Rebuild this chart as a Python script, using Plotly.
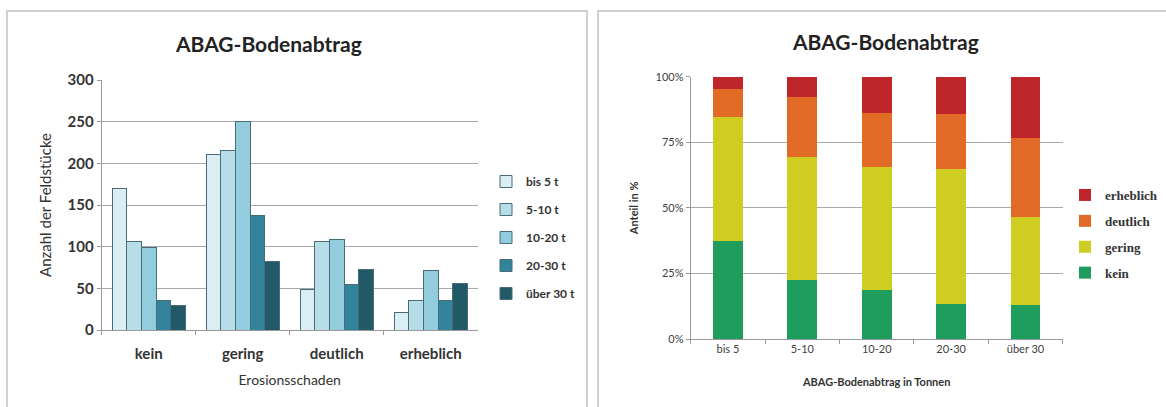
import plotly.graph_objects as go

W, H = 1166, 407

# ---------------- data ----------------
schaden = ["kein", "gering", "deutlich", "erheblich"]
abtrag_klassen = ["bis 5 t", "5-10 t", "10-20 t", "20-30 t", "über 30 t"]
anzahl = {
    "bis 5 t":   [170, 211, 49, 21],
    "5-10 t":    [106, 216, 106, 35],
    "10-20 t":   [99, 250, 109, 71],
    "20-30 t":   [35, 137, 55, 36],
    "über 30 t": [30, 82, 73, 56],
}

abtrag_tonnen = ["bis 5", "5-10", "10-20", "20-30", "über 30"]
schaden_stufen = ["kein", "gering", "deutlich", "erheblich"]
anteil = {
    "kein":      [37.4, 22.6, 18.8, 13.5, 12.8],
    "gering":    [47.1, 46.9, 46.7, 51.3, 33.9],
    "deutlich":  [10.7, 22.6, 20.8, 21.0, 29.8],
    "erheblich": [4.8, 7.9, 13.7, 14.2, 23.5],
}

left_colors = ["#dbeef4", "#b7dee8", "#93cddd", "#31849b", "#215967"]
right_colors = {"kein": "#1f9d5c", "gering": "#cfcc22",
                "deutlich": "#e06a26", "erheblich": "#be262c"}

def px(x):
    return x / W

def py(y):
    return 1 - y / H

FONT = "Lato, 'Open Sans', sans-serif"
SERIF = "'Liberation Serif', serif"
TXT = "#404040"

fig = go.Figure()

for i, (name, col) in enumerate(zip(abtrag_klassen, left_colors)):
    fig.add_trace(go.Bar(
        x=schaden, y=anzahl[name], name=name,
        marker=dict(color=col, line=dict(color="#4a6b7a", width=1)),
        xaxis="x", yaxis="y", legend="legend", legendgroup=name,
        offsetgroup=str(i),
    ))

for i, name in enumerate(schaden_stufen):
    fig.add_trace(go.Bar(
        x=abtrag_tonnen, y=anteil[name], name=name,
        marker=dict(color=right_colors[name], line=dict(width=0)),
        xaxis="x2", yaxis="y2", legend="legend2", legendgroup="r" + name,
        legendrank=10 - i, width=0.4,
    ))

shapes = [
    dict(type="rect", xref="paper", yref="paper", layer="below",
         x0=px(7), x1=px(587), y0=py(410), y1=py(11),
         line=dict(color="#d0d0d0", width=2), fillcolor="white"),
    dict(type="rect", xref="paper", yref="paper", layer="below",
         x0=px(598), x1=px(1170), y0=py(410), y1=py(11),
         line=dict(color="#d0d0d0", width=2), fillcolor="white"),
]

annotations = [
    dict(text="<b>ABAG-Bodenabtrag</b>", x=px(268), y=py(43), xref="paper", yref="paper",
         xanchor="center", yanchor="middle",
         showarrow=False, font=dict(family=FONT, size=21, color="#222")),
    dict(text="<b>ABAG-Bodenabtrag</b>", x=px(885), y=py(42), xref="paper", yref="paper",
         xanchor="center", yanchor="middle",
         showarrow=False, font=dict(family=FONT, size=21, color="#222")),
]

fig.update_layout(
    width=W, height=H,
    margin=dict(l=0, r=0, t=0, b=0, autoexpand=False),
    paper_bgcolor="white", plot_bgcolor="rgba(0,0,0,0)",
    barmode="stack",
    bargap=0.22, bargroupgap=0,
    shapes=shapes, annotations=annotations,
    xaxis=dict(domain=[px(101.7), px(477.7)], anchor="y", automargin=False,
               showline=True, linecolor="#9a9a9a", linewidth=1,
               ticks="outside", tickson="boundaries", ticklen=4, tickcolor="#9a9a9a",
               ticklabelstandoff=10,
               tickfont=dict(family=FONT, size=15, color="#333", weight="bold"),
               title=dict(text="Erosionsschaden", standoff=14,
                          font=dict(family=FONT, size=14, color="#333"))),
    yaxis=dict(domain=[py(330), py(80)], anchor="x", range=[0, 300], dtick=50,
               automargin=False,
               showline=True, linecolor="#9a9a9a", linewidth=1,
               ticks="outside", ticklen=4, tickcolor="#9a9a9a",
               showgrid=True, gridcolor="#a8a8a8", gridwidth=1, zeroline=False,
               tickfont=dict(family=FONT, size=15, color="#333", weight="bold"),
               title=dict(text="Anzahl der Feldstücke", standoff=12,
                          font=dict(family=FONT, size=15, color="#333"))),
    xaxis2=dict(domain=[px(690.7), px(1062.7)], anchor="y2", automargin=False,
                showline=True, linecolor="#9a9a9a", linewidth=1,
                ticks="outside", tickson="boundaries", ticklen=4, tickcolor="#9a9a9a",
                tickfont=dict(family=FONT, size=11, color=TXT),
                title=dict(text="<b>ABAG-Bodenabtrag in Tonnen</b>", standoff=24,
                           font=dict(family=FONT, size=11, color="#333"))),
    yaxis2=dict(domain=[py(339), py(76.7)], anchor="x2", range=[0, 100], dtick=25,
                ticksuffix="%", automargin=False,
                showline=True, linecolor="#9a9a9a", linewidth=1,
                ticks="outside", ticklen=4, tickcolor="#9a9a9a",
                showgrid=True, gridcolor="#a8a8a8", gridwidth=1, zeroline=False,
                tickfont=dict(family=FONT, size=11, color=TXT),
                title=dict(text="<b>Anteil in %</b>", standoff=14,
                           font=dict(family=FONT, size=11, color="#333"))),
    legend=dict(x=px(486), y=py(167), xanchor="left", yanchor="top",
                bgcolor="rgba(0,0,0,0)", tracegroupgap=9, traceorder="grouped",
                font=dict(family=FONT, size=12, color="#333", weight="bold"),
                itemwidth=30),
    legend2=dict(x=px(1163), y=py(180), xanchor="right", yanchor="top",
                 bgcolor="rgba(0,0,0,0)", tracegroupgap=6, traceorder="grouped",
                 font=dict(family=SERIF, size=13, color="#333", weight="bold"),
                 itemwidth=30),
)
fig.write_html("out.html")
